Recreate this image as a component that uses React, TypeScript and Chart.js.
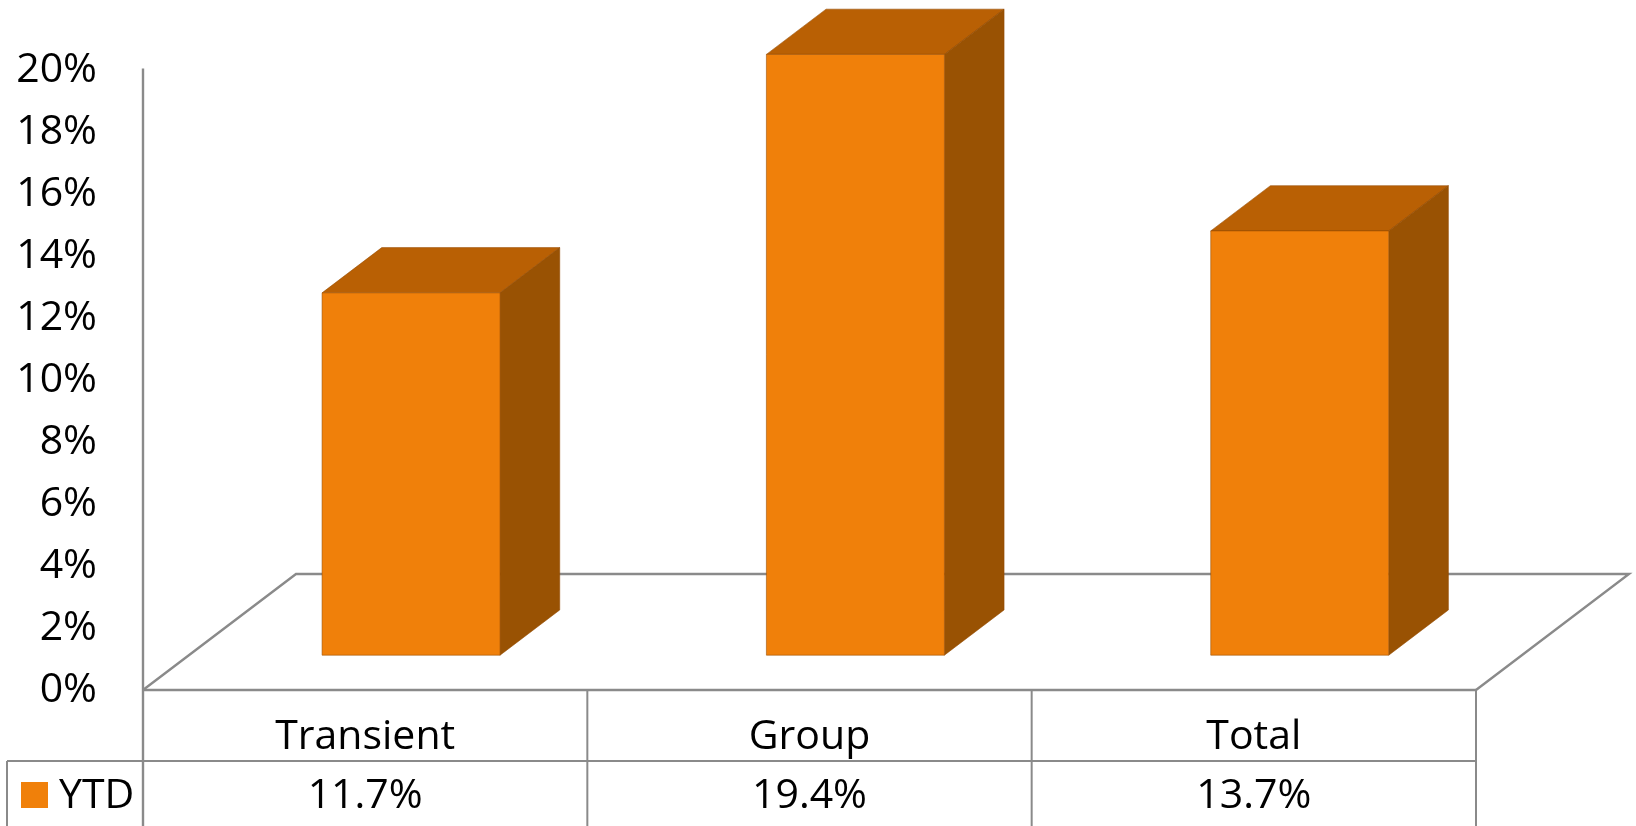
import React, { useEffect, useRef } from "react";
import { Chart, registerables } from "chart.js";

Chart.register(...registerables);

// ---- data ----
const categories = ["Transient", "Group", "Total"];
const seriesName = "YTD";
const ytdValues = [11.7, 19.4, 13.7];
const yAxisMin = 0;
const yAxisMax = 20;
const yAxisStep = 2;

// ---- style ----
const FONT_FAMILY = "'Open Sans', Lato, 'DejaVu Sans', sans-serif";
const FONT_SIZE = 41;
const FRONT_COLOR = "#F0800A";
const TOP_COLOR = "#B96004";
const SIDE_COLOR = "#995203";
const EDGE_COLOR = "rgba(150,75,0,0.55)";
const LINE_COLOR = "#8A8A8A";
const FLOOR_DX = 153;
const FLOOR_DY = -116;
const BAR_FRONT = 0.3;
const BAR_BACK = 0.69;

const fmt = (v: number) => v.toFixed(1) + "%";

const excel3d = {
  id: "excel3d",
  beforeDatasetsDraw(chart: any) {
    const { ctx, chartArea: a } = chart;
    ctx.save();
    ctx.strokeStyle = LINE_COLOR;
    ctx.lineWidth = 2.4;
    ctx.lineJoin = "miter";
    // floor parallelogram
    ctx.beginPath();
    ctx.moveTo(a.left, a.bottom);
    ctx.lineTo(a.left + FLOOR_DX, a.bottom + FLOOR_DY);
    ctx.lineTo(a.right + FLOOR_DX, a.bottom + FLOOR_DY);
    ctx.lineTo(a.right, a.bottom);
    ctx.stroke();
    ctx.restore();
  },
  afterDatasetsDraw(chart: any) {
    const { ctx } = chart;
    const meta = chart.getDatasetMeta(0);
    const dx0 = BAR_FRONT * FLOOR_DX;
    const dy0 = BAR_FRONT * FLOOR_DY;
    const ddx = (BAR_BACK - BAR_FRONT) * FLOOR_DX;
    const ddy = (BAR_BACK - BAR_FRONT) * FLOOR_DY;
    ctx.save();
    ctx.lineWidth = 1;
    ctx.strokeStyle = EDGE_COLOR;
    meta.data.forEach((el: any) => {
      const p = el.getProps(["x", "y", "base", "width"], true);
      const fl = p.x - p.width / 2 + dx0;
      const fr = p.x + p.width / 2 + dx0;
      const ft = p.y + dy0;
      const fb = p.base + dy0;
      // top face
      ctx.fillStyle = TOP_COLOR;
      ctx.beginPath();
      ctx.moveTo(fl, ft);
      ctx.lineTo(fr, ft);
      ctx.lineTo(fr + ddx, ft + ddy);
      ctx.lineTo(fl + ddx, ft + ddy);
      ctx.closePath();
      ctx.fill();
      ctx.stroke();
      // side face
      ctx.fillStyle = SIDE_COLOR;
      ctx.beginPath();
      ctx.moveTo(fr, ft);
      ctx.lineTo(fr + ddx, ft + ddy);
      ctx.lineTo(fr + ddx, fb + ddy);
      ctx.lineTo(fr, fb);
      ctx.closePath();
      ctx.fill();
      ctx.stroke();
      // front face
      ctx.fillStyle = FRONT_COLOR;
      ctx.beginPath();
      ctx.rect(fl, ft, fr - fl, fb - ft);
      ctx.fill();
      ctx.stroke();
    });
    ctx.restore();
  },
  afterDraw(chart: any) {
    const { ctx, chartArea: a, scales, height } = chart;
    const xs = scales.x;
    const n = categories.length;
    const bounds: number[] = [a.left];
    for (let i = 1; i < n; i++) {
      bounds.push((xs.getPixelForValue(i - 1) + xs.getPixelForValue(i)) / 2);
    }
    bounds.push(a.right);
    const rowTop = a.bottom;
    const rowMid = a.bottom + 71;
    const legendLeft = 7;

    ctx.save();
    ctx.strokeStyle = LINE_COLOR;
    ctx.lineWidth = 2.4;
    // value axis line (runs down through table)
    ctx.beginPath();
    ctx.moveTo(a.left, a.top - 2);
    ctx.lineTo(a.left, height);
    ctx.stroke();
    // front floor edge / table top
    ctx.beginPath();
    ctx.moveTo(a.left, rowTop);
    ctx.lineTo(a.right, rowTop);
    ctx.stroke();
    ctx.lineWidth = 2;
    // row separator
    ctx.beginPath();
    ctx.moveTo(legendLeft, rowMid);
    ctx.lineTo(a.right, rowMid);
    ctx.stroke();
    // legend cell left border
    ctx.beginPath();
    ctx.moveTo(legendLeft, rowMid);
    ctx.lineTo(legendLeft, height);
    ctx.stroke();
    // column separators
    for (let i = 1; i < bounds.length; i++) {
      ctx.beginPath();
      ctx.moveTo(bounds[i], rowTop);
      ctx.lineTo(bounds[i], height);
      ctx.stroke();
    }

    // data row values
    ctx.fillStyle = "#000";
    ctx.font = `${FONT_SIZE}px ${FONT_FAMILY}`;
    ctx.textBaseline = "alphabetic";
    ctx.textAlign = "center";
    const ds = chart.data.datasets[0];
    ds.data.forEach((v: number, i: number) => {
      ctx.fillText(fmt(v), xs.getPixelForValue(i), rowMid + 47);
    });
    // legend key
    ctx.fillStyle = FRONT_COLOR;
    ctx.fillRect(21, rowMid + 21, 27, 26);
    ctx.fillStyle = "#000";
    ctx.textAlign = "left";
    ctx.fillText(ds.label, 59, rowMid + 47);
    ctx.restore();
  },
};

export default function App() {
  const ref = useRef<HTMLCanvasElement | null>(null);
  useEffect(() => {
    if (!ref.current) return;
    const font = { family: FONT_FAMILY, size: FONT_SIZE };
    const chart = new Chart(ref.current, {
      type: "bar",
      data: {
        labels: categories,
        datasets: [
          {
            label: seriesName,
            data: ytdValues,
            backgroundColor: "rgba(0,0,0,0)",
            borderWidth: 0,
            barPercentage: 0.4006,
            categoryPercentage: 1,
          },
        ],
      },
      options: {
        responsive: false,
        animation: false,
        devicePixelRatio: 1,
        layout: { padding: { top: 70, right: 160, left: 0, bottom: 0 } },
        plugins: { legend: { display: false }, tooltip: { enabled: false } },
        scales: {
          x: {
            grid: { display: false, drawTicks: false },
            border: { display: false },
            ticks: { font, color: "#000", padding: 23, maxRotation: 0, autoSkip: false },
            afterFit(s: any) {
              s.height = 136;
            },
          },
          y: {
            min: yAxisMin,
            max: yAxisMax,
            grid: { display: false, drawTicks: false },
            border: { display: false },
            ticks: {
              stepSize: yAxisStep,
              font,
              color: "#000",
              padding: 46,
              callback: (v: any) => v + "%",
            },
            afterFit(s: any) {
              s.width = 143;
            },
          },
        },
      },
      plugins: [excel3d],
    });
    return () => chart.destroy();
  }, []);
  return (
    <div style={{ position: "fixed", left: 0, top: 0, width: 1636, height: 826, background: "#fff" }}>
      <canvas ref={ref} width={1636} height={826} style={{ display: "block" }} />
    </div>
  );
}
